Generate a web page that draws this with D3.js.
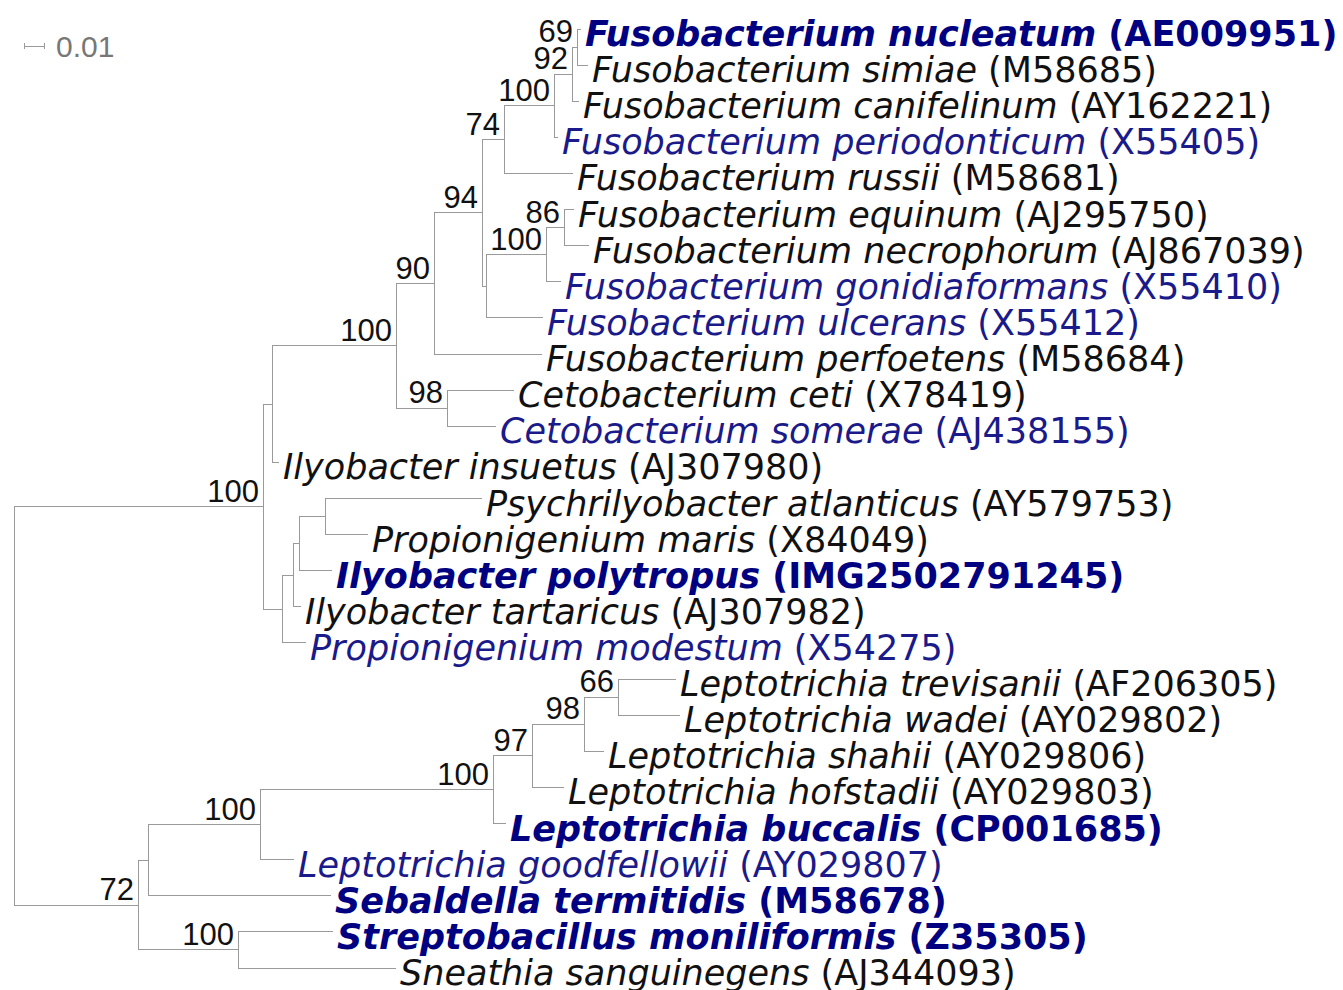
<!DOCTYPE html>
<html><head><meta charset="utf-8">
<script src="https://cdn.jsdelivr.net/npm/d3@7/dist/d3.min.js"></script>
<style>html,body{margin:0;padding:0;background:#fff;}svg{display:block;}</style>
</head><body>
<svg id="chart" width="1343" height="990"></svg>
<script>
// ---- Tree data ----
// internal/leaf node ids, their parent ids, branch lengths (substitutions/site), bootstrap support
const nodeIds = ["R","U","L","A","I","B","insuetus","C","D","ceti","somerae","E","perfoetens","F","G","H","russii","J","periodonticum","K","canifelinum","nucleatum","simiae","M","ulcerans","N","gonidiaformans","equinum","necrophorum","P","modestum","Q","tartaricus","S","polytropus","psychri","maris","T","V","W","sebaldella","X","goodfellowii","Y","buccalis","Z","hofstadii","AA","shahii","trevisanii","wadei","strepto","sneathia"];
const parentIds = ["","R","R","U","U","A","A","B","B","D","D","C","C","E","E","F","F","H","H","J","J","K","K","G","G","M","M","N","N","I","I","P","P","Q","Q","S","S","L","L","T","T","W","W","X","X","Y","Y","Z","Z","AA","AA","V","V"];
const branchLengths = [0,0.1245,0.062,0.0045,0.0095,0.062,0.0035,0.019,0.0255,0.0335,0.0245,0.024,0.054,0.011,0.002,0.025,0.0345,0.009,0.002,0.0025,0.0035,0.002,0.0055,0.03,0.0285,0.009,0.0075,0.005,0.0125,0.0055,0.012,0.003,0.004,0.013,0.0165,0.0785,0.0215,0.005,0.05,0.056,0.0915,0.1165,0.017,0.0195,0.0065,0.026,0.016,0.017,0.01,0.029,0.031,0.0475,0.079];
const supportValues = [null,100,72,null,null,100,null,90,98,null,null,94,null,74,null,100,null,92,null,69,null,null,null,100,null,86,null,null,null,null,null,null,null,null,null,null,null,null,100,100,null,100,null,97,null,98,null,66,null,null,null,null,null];

// leaves: id, species, accession, group (genome = sequenced genome, type = type strain, other)
const leafIds = ["nucleatum","simiae","canifelinum","periodonticum","russii","equinum","necrophorum","gonidiaformans","ulcerans","perfoetens","ceti","somerae","insuetus","psychri","maris","polytropus","tartaricus","modestum","trevisanii","wadei","shahii","hofstadii","buccalis","goodfellowii","sebaldella","strepto","sneathia"];
const speciesNames = ["Fusobacterium nucleatum","Fusobacterium simiae","Fusobacterium canifelinum","Fusobacterium periodonticum","Fusobacterium russii","Fusobacterium equinum","Fusobacterium necrophorum","Fusobacterium gonidiaformans","Fusobacterium ulcerans","Fusobacterium perfoetens","Cetobacterium ceti","Cetobacterium somerae","Ilyobacter insuetus","Psychrilyobacter atlanticus","Propionigenium maris","Ilyobacter polytropus","Ilyobacter tartaricus","Propionigenium modestum","Leptotrichia trevisanii","Leptotrichia wadei","Leptotrichia shahii","Leptotrichia hofstadii","Leptotrichia buccalis","Leptotrichia goodfellowii","Sebaldella termitidis","Streptobacillus moniliformis","Sneathia sanguinegens"];
const accessions = ["AE009951","M58685","AY162221","X55405","M58681","AJ295750","AJ867039","X55410","X55412","M58684","X78419","AJ438155","AJ307980","AY579753","X84049","IMG2502791245","AJ307982","X54275","AF206305","AY029802","AY029806","AY029803","CP001685","AY029807","M58678","Z35305","AJ344093"];
const leafGroups = ["genome","other","other","type","other","other","other","type","type","other","other","type","other","other","other","genome","other","type","other","other","other","other","genome","type","genome","genome","other"];
const scaleBarValue = 0.01;

// ---- Build hierarchy ----
const table = nodeIds.map((id,i)=>({id, parent: parentIds[i]||null, len: branchLengths[i], sup: supportValues[i]}));
const root = d3.stratify().id(d=>d.id).parentId(d=>d.parent)(table);
const leafIndex = new Map(leafIds.map((d,i)=>[d,i]));
root.eachAfter(n=>{ n.minLeaf = n.children ? d3.min(n.children,c=>c.minLeaf) : leafIndex.get(n.id); });
root.sort((a,b)=>a.minLeaf-b.minLeaf);
root.eachBefore(n=>{ n.depthLen = n.parent ? n.parent.depthLen + n.data.len : 0; });

const maxLen = d3.max(root.leaves(), d=>d.depthLen);
const x = d3.scaleLinear().domain([0, maxLen]).range([14, 14 + maxLen*2000]);
const y = d3.scaleLinear().domain([0, leafIds.length-1]).range([29, 968]);
root.eachAfter(n=>{
  if(!n.children) n.yPos = y(leafIndex.get(n.id));
  else n.yPos = (n.children[0].yPos + n.children[n.children.length-1].yPos)/2;
  n.xPos = x(n.depthLen);
});

const svg = d3.select("#chart");
const lineColor = "#9a9a9a";
const g = svg.append("g");

g.selectAll("path.branch").data(root.links()).join("path")
  .attr("class","branch")
  .attr("fill","none").attr("stroke",lineColor).attr("stroke-width",1)
  .attr("shape-rendering","crispEdges")
  .attr("d", l=>`M${l.source.xPos},${l.source.yPos}V${l.target.yPos}H${l.target.xPos}`);

// support labels
g.selectAll("text.sup").data(root.descendants().filter(n=>n.data.sup!=null)).join("text")
  .attr("class","sup")
  .attr("x", n=>n.xPos-4).attr("y", n=>n.yPos-5)
  .attr("text-anchor","end")
  .attr("font-family","'Liberation Sans', Arial, sans-serif")
  .attr("font-size",31).attr("fill","#111")
  .text(n=>n.data.sup);

// leaf labels
const colorFor = {genome:"#000080", type:"#1a1a8a", other:"#111"};
const leafTexts = g.selectAll("text.leaf").data(root.leaves()).join("text")
  .attr("class","leaf")
  .attr("x", n=>n.xPos+4).attr("y", n=>n.yPos+17)
  .attr("font-family","'DejaVu Sans', sans-serif")
  .attr("font-size",35)
  .attr("fill", n=>colorFor[leafGroups[leafIndex.get(n.id)]])
  .attr("font-weight", n=>leafGroups[leafIndex.get(n.id)]==="genome"?"bold":"normal");
leafTexts.append("tspan").attr("font-style","italic").text(n=>speciesNames[leafIndex.get(n.id)]);
leafTexts.append("tspan").text(n=>" ("+accessions[leafIndex.get(n.id)]+")");

// scale bar
const sbLen = x(scaleBarValue)-x(0);
const sb = svg.append("g").attr("transform","translate(24,46)");
sb.append("path").attr("stroke",lineColor).attr("fill","none").attr("shape-rendering","crispEdges")
  .attr("d",`M0,-3V3M0,0H${sbLen}M${sbLen},-3V3`);
sb.append("text").attr("x",sbLen+12).attr("y",11)
  .attr("font-family","'Liberation Sans', Arial, sans-serif").attr("font-size",30)
  .attr("fill","#777").text(scaleBarValue);
</script>
</body></html>
